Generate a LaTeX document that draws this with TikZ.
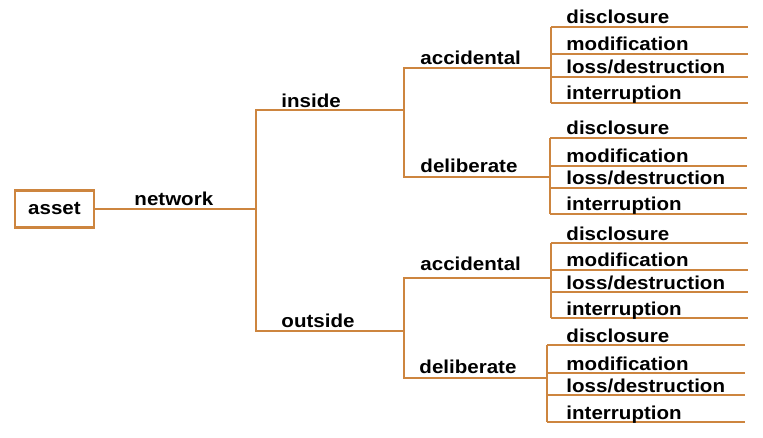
\documentclass[tikz,border=0pt]{standalone}
\usepackage{fontspec}
\newfontfamily\treefont[FakeStretch=1.1]{Liberation Sans}
\definecolor{treebrown}{RGB}{205,133,63}

\begin{document}
\begin{tikzpicture}[
  x=0.75pt, y=-0.75pt,
  font=\treefont\bfseries\fontsize{14}{16}\selectfont,
  line width=2.2pt,
  branch/.style={draw=treebrown, line join=miter},
  lbl/.style={anchor=base west, inner sep=0pt},
  rootbox/.style={draw=treebrown, line width=1.6pt, minimum width=79*0.75pt,
    minimum height=37*0.75pt, inner sep=0pt},
]
\useasboundingbox (0,0) rectangle (763,438);

% root
\node[rootbox] (asset) at (54.5,209) {asset};

% junctions
\coordinate (j0)   at (256,209);
\coordinate (jin)  at (404,110);
\coordinate (jout) at (404,331);
\coordinate (jia)  at (551,68);
\coordinate (jid)  at (551,177);
\coordinate (joa)  at (551,278);
\coordinate (jod)  at (547,378);

\draw[branch] (asset.east) -- (j0);
\node[lbl] (tnet) at (133,206) {network};

\draw[branch] (jin) -- (j0 |- jin) -- (j0 |- jout) -- (jout);
\node[lbl] (tin)  at (280,108) {inside};
\node[lbl] (tout) at (280,327) {outside};

\draw[branch] (jia) -- (jin |- jia) -- (jin |- jid) -- (jid);
\node[lbl] (tia) at (419,65) {accidental};
\node[lbl] (tid) at (419,173) {deliberate};

\draw[branch] (joa) -- (jout |- joa) -- (jout |- jod) -- (jod);
\node[lbl] (toa) at (419,270) {accidental};
\node[lbl] (tod) at (418,373) {deliberate};

% leaves, inside / accidental
\draw[branch] (551,27) -- (551,103);
\foreach \y/\t in {27/disclosure,54/modification,77/{loss/destruction},103/interruption} {
  \draw[branch] (551,\y) -- (748,\y);
  \node[lbl] (ia\y) at (565,\y-3) {\t};
}

% leaves, inside / deliberate
\draw[branch] (550,138) -- (550,214);
\foreach \y/\t in {138/disclosure,166/modification,188/{loss/destruction},214/interruption} {
  \draw[branch] (550,\y) -- (747,\y);
  \node[lbl] (id\y) at (565,\y-3) {\t};
}

% leaves, outside / accidental
\draw[branch] (551,243) -- (551,318);
\foreach \y/\t in {243/disclosure,270/modification,292/{loss/destruction},318/interruption} {
  \draw[branch] (551,\y) -- (748,\y);
  \node[lbl] (oa\y) at (565,\y-3) {\t};
}

% leaves, outside / deliberate
\draw[branch] (547,345) -- (547,422);
\foreach \y/\t in {345/disclosure,373/modification,395/{loss/destruction},422/interruption} {
  \draw[branch] (547,\y) -- (745,\y);
  \node[lbl] (od\y) at (565,\y-3) {\t};
}

\end{tikzpicture}
\end{document}
